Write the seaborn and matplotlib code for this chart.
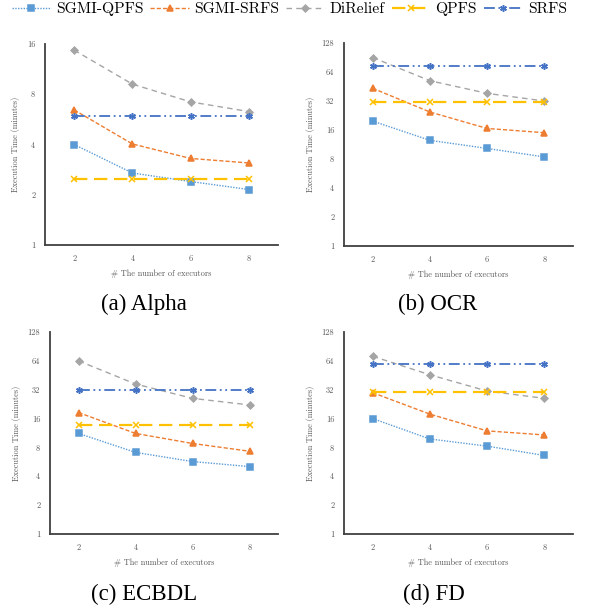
import numpy as np
import pandas as pd
import matplotlib
matplotlib.use("Agg")
import matplotlib.pyplot as plt
import seaborn as sns
from matplotlib.lines import Line2D

# executors on the x axis
executors = [2, 4, 6, 8]
methods = ["SGMI-QPFS", "SGMI-SRFS", "DiRelief", "QPFS", "SRFS"]
datasets = ["Alpha", "OCR", "ECBDL", "FD"]
captions = ["(a) Alpha", "(b) OCR", "(c) ECBDL", "(d) FD"]

# execution time in minutes
alpha_sgmi_qpfs = [4.0, 2.7, 2.4, 2.15]
alpha_sgmi_srfs = [6.45, 4.03, 3.3, 3.1]
alpha_direlief = [14.7, 9.2, 7.2, 6.3]
alpha_qpfs = [2.48, 2.48, 2.48, 2.48]
alpha_srfs = [5.9, 5.9, 5.9, 5.9]

ocr_sgmi_qpfs = [19.8, 12.5, 10.3, 8.4]
ocr_sgmi_srfs = [43.4, 24.6, 16.6, 15.0]
ocr_direlief = [90.5, 52.0, 38.4, 32.0]
ocr_qpfs = [31.6, 31.6, 31.6, 31.6]
ocr_srfs = [74.0, 74.0, 74.0, 74.0]

ecbdl_sgmi_qpfs = [11.2, 7.1, 5.7, 5.05]
ecbdl_sgmi_srfs = [18.5, 11.2, 8.8, 7.3]
ecbdl_direlief = [64.0, 36.7, 26.0, 22.2]
ecbdl_qpfs = [13.8, 13.8, 13.8, 13.8]
ecbdl_srfs = [31.6, 31.6, 31.6, 31.6]

fd_sgmi_qpfs = [16.0, 9.8, 8.25, 6.6]
fd_sgmi_srfs = [29.8, 17.8, 11.9, 10.8]
fd_direlief = [71.5, 45.8, 31.0, 26.0]
fd_qpfs = [30.5, 30.5, 30.5, 30.5]
fd_srfs = [60.0, 60.0, 60.0, 60.0]

y_tops = [16, 128, 128, 128]

values = {
    "Alpha": [alpha_sgmi_qpfs, alpha_sgmi_srfs, alpha_direlief, alpha_qpfs, alpha_srfs],
    "OCR": [ocr_sgmi_qpfs, ocr_sgmi_srfs, ocr_direlief, ocr_qpfs, ocr_srfs],
    "ECBDL": [ecbdl_sgmi_qpfs, ecbdl_sgmi_srfs, ecbdl_direlief, ecbdl_qpfs, ecbdl_srfs],
    "FD": [fd_sgmi_qpfs, fd_sgmi_srfs, fd_direlief, fd_qpfs, fd_srfs],
}

rows = []
for ds in datasets:
    for m, series in zip(methods, values[ds]):
        for x, v in zip(executors, series):
            rows.append({"dataset": ds, "method": m, "executors": x, "time": v})
df = pd.DataFrame(rows)

colors = {"SGMI-QPFS": "#5B9BD5", "SGMI-SRFS": "#ED7D31", "DiRelief": "#A5A5A5",
          "QPFS": "#FFC000", "SRFS": "#4472C4"}
markers = {"SGMI-QPFS": "s", "SGMI-SRFS": "^", "DiRelief": "D",
           "QPFS": "x", "SRFS": (6, 2, 0)}
msizes = {"SGMI-QPFS": 4.3, "SGMI-SRFS": 4.8, "DiRelief": 3.5, "QPFS": 4.5, "SRFS": 4.8}
dashes = {"SGMI-QPFS": (1, 1), "SGMI-SRFS": (3, 1.5), "DiRelief": (4, 3),
          "QPFS": (6, 3), "SRFS": (6, 2, 1, 2, 1, 2)}
widths = {"SGMI-QPFS": 1.0, "SGMI-SRFS": 1.0, "DiRelief": 1.0, "QPFS": 1.6, "SRFS": 1.3}

sns.set_theme(style="white")
plt.rcParams["font.family"] = ["cmr10", "DejaVu Serif"]
plt.rcParams["axes.formatter.use_mathtext"] = True

fig = plt.figure(figsize=(5.93, 6.11), dpi=100)
W, H = 593, 611
# axes boxes in pixels: left, top, right, bottom
boxes = [(45, 44, 278, 245), (344, 43, 573, 246), (50, 332, 278, 534), (344, 332, 573, 534)]
cap_pos = [(144, 304), (438, 304), (144, 594), (434, 594)]

gray_txt = "#595959"
for i, ds in enumerate(datasets):
    l, t, r, b = boxes[i]
    ax = fig.add_axes([l / W, 1 - b / H, (r - l) / W, (b - t) / H])
    sub = df[df["dataset"] == ds]
    for m in methods:
        d = sub[sub["method"] == m]
        sns.lineplot(data=d, x="executors", y="time", ax=ax, color=colors[m],
                     marker=markers[m], markersize=msizes[m], linewidth=widths[m],
                     dashes=dashes[m], markeredgecolor=colors[m],
                     markeredgewidth=1.1, legend=False)
    ax.set_yscale("log", base=2)
    ax.set_ylim(1, y_tops[i])
    ticks = [2 ** k for k in range(int(np.log2(y_tops[i])) + 1)]
    ax.set_yticks(ticks)
    ax.set_yticklabels([str(v) for v in ticks])
    ax.minorticks_off()
    ax.set_xlim(1, 9)
    ax.set_xticks(executors)
    ax.set_xticklabels([str(v) for v in executors])
    ax.tick_params(axis="both", labelsize=6, colors=gray_txt, length=0, pad=7)
    ax.set_xlabel("# The number of executors", fontsize=6, color=gray_txt, labelpad=5)
    ax.set_ylabel("Execution Time (minutes)", fontsize=6, color=gray_txt, labelpad=5)
    for s in ["top", "right"]:
        ax.spines[s].set_visible(False)
    for s in ["left", "bottom"]:
        ax.spines[s].set_color("#404040")
        ax.spines[s].set_linewidth(1.3)
    fig.text(cap_pos[i][0] / W, 1 - cap_pos[i][1] / H, captions[i], color="black",
             ha="center", va="center", fontsize=16.5, family="Liberation Serif")

handles = [Line2D([0], [0], color=colors[m], marker=markers[m], markersize=msizes[m],
                  linewidth=widths[m], dashes=dashes[m], markeredgecolor=colors[m],
                  markeredgewidth=1.1)
           for m in methods]
leg = fig.legend(handles, methods, loc="center left", bbox_to_anchor=(12 / W, 1 - 9 / H),
                 ncol=5, frameon=False, fontsize=11.2, handlelength=2.5, handletextpad=0.32,
                 columnspacing=0.44, borderpad=0, borderaxespad=0)
for txt in leg.get_texts():
    txt.set_color("black")

fig.savefig("out.png", dpi=100)
